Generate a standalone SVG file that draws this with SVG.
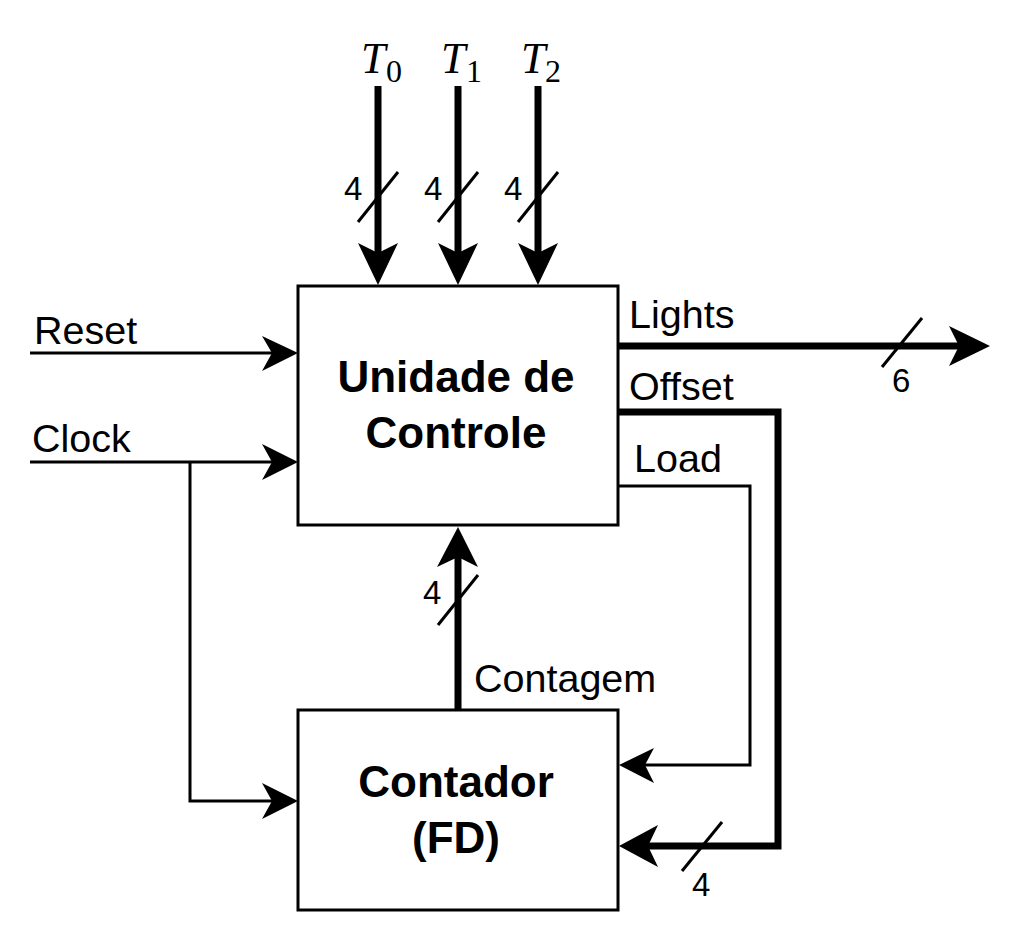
<svg xmlns="http://www.w3.org/2000/svg" width="1020" height="932" viewBox="0 0 1020 932">
<style>
.box{fill:#fff;stroke:#000;stroke-width:3}
.thin{fill:none;stroke:#000;stroke-width:3}
.thick{fill:none;stroke:#000;stroke-width:7}
.slash{fill:none;stroke:#000;stroke-width:3}
.head{fill:#000;stroke:none}
.lbl{font-family:"Liberation Sans",Arial,sans-serif;font-size:39.5px;fill:#000}
.num{font-family:"Liberation Sans",Arial,sans-serif;font-size:33px;fill:#000}
.bold{font-family:"Liberation Sans",Arial,sans-serif;font-size:44px;font-weight:bold;fill:#000;text-anchor:middle}
.mt{font-family:"Liberation Serif","Times New Roman",serif;font-size:44px;font-style:italic;fill:#000}
.ms{font-family:"Liberation Serif","Times New Roman",serif;font-size:32px;fill:#000}
</style>
<rect width="1020" height="932" fill="#fff"/>
<g id="connectors">
  <line class="thick" x1="378" y1="86" x2="378" y2="255"/>
  <path class="head" d="M378,285 L358,243 L378,253 L398,243 Z"/>
  <line class="slash" x1="358" y1="222" x2="398" y2="172"/>
  <line class="thick" x1="458" y1="86" x2="458" y2="255"/>
  <path class="head" d="M458,285 L438,243 L458,253 L478,243 Z"/>
  <line class="slash" x1="438" y1="222" x2="478" y2="172"/>
  <line class="thick" x1="538" y1="86" x2="538" y2="255"/>
  <path class="head" d="M538,285 L518,243 L538,253 L558,243 Z"/>
  <line class="slash" x1="518" y1="222" x2="558" y2="172"/>
  <line class="thin" x1="30" y1="353" x2="272" y2="353"/>
  <path class="head" d="M298,353 L262,336 L272,353 L262,371 Z"/>
  <line class="thin" x1="30" y1="462" x2="272" y2="462"/>
  <path class="head" d="M298,462 L262,444 L272,462 L262,480 Z"/>
  <polyline class="thin" points="190,462 190,801 272,801"/>
  <path class="head" d="M298,801 L262,783 L272,801 L262,819 Z"/>
  <line class="thick" x1="618" y1="346" x2="960" y2="346"/>
  <path class="head" d="M990,346 L949,326 L959,346 L949,366 Z"/>
  <line class="slash" x1="882" y1="367" x2="922" y2="318"/>
  <polyline class="thick" points="618,412 778,412 778,846 648,846"/>
  <path class="head" d="M619,846 L658,825 L648,846 L658,867 Z"/>
  <line class="slash" x1="682" y1="871" x2="722" y2="822"/>
  <polyline class="thin" points="618,486 750,486 750,765 640,765"/>
  <path class="head" d="M619,765 L654,748 L645,765 L654,783 Z"/>
  <line class="thick" x1="458" y1="710" x2="458" y2="557"/>
  <path class="head" d="M458,527 L437,567 L458,557 L478,567 Z"/>
  <line class="slash" x1="438" y1="625" x2="478" y2="575"/>
</g>
<g id="unidade">
  <rect class="box" x="298" y="286" width="320" height="239"/>
  <text class="bold" x="456" y="392">Unidade de</text>
  <text class="bold" x="456" y="448">Controle</text>
</g>
<g id="contador">
  <rect class="box" x="298" y="710" width="320" height="200"/>
  <text class="bold" x="456" y="797">Contador</text>
  <text class="bold" x="456" y="853">(FD)</text>
</g>
<g id="labels">
  <text class="mt" x="361" y="73">T</text><text class="ms" x="386" y="82">0</text>
  <text class="mt" x="441" y="73">T</text><text class="ms" x="466" y="82">1</text>
  <text class="mt" x="521" y="73">T</text><text class="ms" x="545" y="82">2</text>
  <text class="num" x="344" y="200">4</text>
  <text class="num" x="424" y="200">4</text>
  <text class="num" x="504" y="200">4</text>
  <text class="lbl" x="34" y="344">Reset</text>
  <text class="lbl" x="32" y="452">Clock</text>
  <text class="lbl" x="629" y="328">Lights</text>
  <text class="lbl" x="629" y="400">Offset</text>
  <text class="lbl" x="634" y="472">Load</text>
  <text class="lbl" x="474" y="692">Contagem</text>
  <text class="num" x="892" y="392">6</text>
  <text class="num" x="423" y="604">4</text>
  <text class="num" x="692" y="896">4</text>
</g>
</svg>
